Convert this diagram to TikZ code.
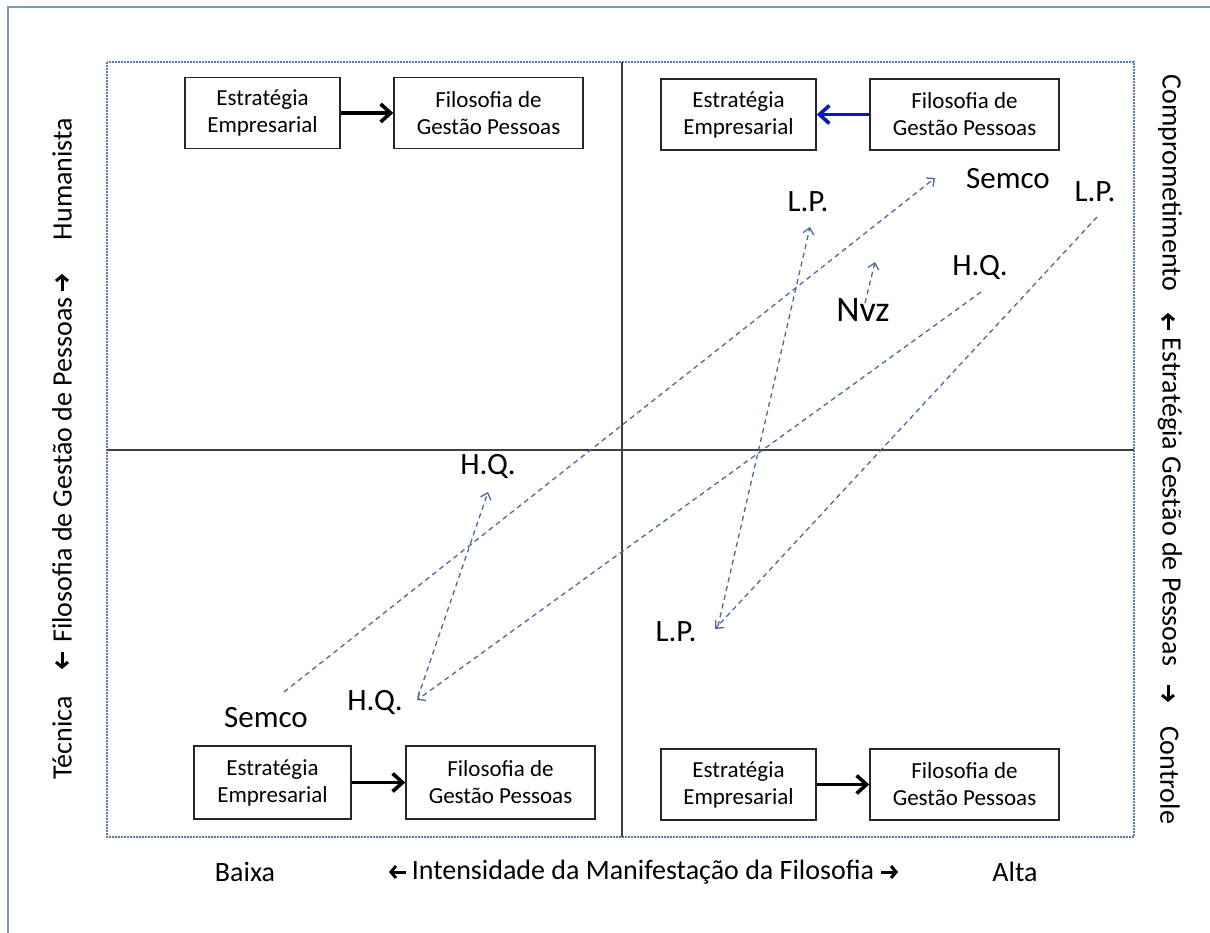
\documentclass[tikz,border=0pt]{standalone}
\usepackage{fontspec}
\setmainfont{Carlito}
\usetikzlibrary{arrows.meta}
\definecolor{frameblue}{HTML}{7F96BC}
\definecolor{dashblue}{HTML}{5B7AAE}
\definecolor{flowblue}{HTML}{4A6A9E}
\definecolor{strongblue}{HTML}{0A14C8}
\begin{document}
\begin{tikzpicture}[x=1pt,y=-1pt,
  stagebox/.style={draw=black!85, line width=1.4pt, minimum height=71pt, inner sep=0pt,
    align=center, font=\fontsize{23}{27}\selectfont},
  estbox/.style={stagebox, minimum width=155pt},
  filbox/.style={stagebox, minimum width=189pt},
  linkarrow/.style={line width=3.6pt, -{Straight Barb[length=10pt,width=18pt]}},
  flow/.style={draw=flowblue, line width=1.3pt, dash pattern=on 5pt off 4pt,
    -{Straight Barb[length=6pt,width=11pt]}},
  firm/.style={inner sep=0pt, font=\fontsize{31}{36}\selectfont},
  axislabel/.style={inner sep=0pt, font=\fontsize{28}{33}\selectfont},
  axisarrow/.style={line width=3pt, -{Straight Barb[length=5pt,width=12pt]}}
]
\useasboundingbox (0,0) rectangle (1210,933);

% page border (top and left edges)
\draw[frameblue, line width=1.5pt] (1210,7) -- (8,7) -- (8,933);

% dashed frame and quadrant axes
\draw[dashblue, line width=1.1pt, dash pattern=on 2pt off 1pt] (107,62) rectangle (1134,837);
\draw[black!75, line width=1.5pt] (622,62) -- (622,837);
\draw[black!75, line width=1.5pt] (107,450) -- (1134,450);

% quadrant boxes
\node[estbox] (e1) at (262.5,113) {Estratégia\\Empresarial};
\node[filbox] (f1) at (488.5,113) {Filosofia de\\Gestão Pessoas};
\node[estbox] (e2) at (738.5,114.5) {Estratégia\\Empresarial};
\node[filbox] (f2) at (964.5,114.5) {Filosofia de\\Gestão Pessoas};
\node[estbox, minimum width=157pt, minimum height=73pt] (e3) at (272.5,782.5) {Estratégia\\Empresarial};
\node[filbox, minimum height=73pt] (f3) at (500.5,782.5) {Filosofia de\\Gestão Pessoas};
\node[estbox] (e4) at (738.5,784.5) {Estratégia\\Empresarial};
\node[filbox] (f4) at (964.5,784.5) {Filosofia de\\Gestão Pessoas};

\draw[linkarrow, black] (e1) -- (f1);
\draw[linkarrow, strongblue] (f2) -- (e2);
\draw[linkarrow, black] (e3) -- (f3);
\draw[linkarrow, black] (e4) -- (f4);

% company labels
\node[firm] (sem1) at (266,718) {Semco};
\node[firm] (hq1) at (375,702) {H.Q.};
\node[firm] (hq2) at (488,466) {H.Q.};
\node[firm] (lp1) at (676,632) {L.P.};
\node[firm] (lp2) at (808,202) {L.P.};
\node[firm] (lp3) at (1095,192) {L.P.};
\node[firm] (sem2) at (1008,179) {Semco};
\node[firm] (hq3) at (980,267) {H.Q.};
\node[inner sep=0pt, font=\fontsize{36}{42}\selectfont] (nvz) at (863,310) {Nvz};

% movement endpoints
\coordinate (semA) at (284,692);
\coordinate (semB) at (935,178);
\coordinate (hqA) at (418,697);
\coordinate (hqB) at (488,492);
\coordinate (hqC) at (981,292);
\coordinate (hqD) at (417,700);
\coordinate (lpA) at (1097,217);
\coordinate (lpB) at (715,629);
\coordinate (lpC) at (718,626);
\coordinate (lpD) at (810,227);
\coordinate (nvA) at (865,303);
\coordinate (nvB) at (875,262);

\draw[flow] (semA) -- (semB);
\draw[flow] (hqA) -- (hqB);
\draw[flow] (hqC) -- (hqD);
\draw[flow] (lpA) -- (lpB);
\draw[flow] (lpC) -- (lpD);
\draw[flow] (nvA) -- (nvB);

% horizontal axis caption
\node[axislabel] (baixa) at (245,872) {Baixa};
\node[axislabel] (intens) at (643,872) {Intensidade da Manifestação da Filosofia};
\node[axislabel] (alta) at (1015,872) {Alta};
\coordinate (hlA) at (406,872); \coordinate (hlB) at (389,872);
\coordinate (hrA) at (881,872); \coordinate (hrB) at (898,872);
\draw[axisarrow] (hlA) -- (hlB);
\draw[axisarrow] (hrA) -- (hrB);

% left axis caption
\node[axislabel, rotate=90] (tec) at (62,738) {Técnica};
\node[axislabel, rotate=90] (filo) at (62,470) {Filosofia de Gestão de Pessoas};
\node[axislabel, rotate=90] (hum) at (62,179) {Humanista};
\coordinate (ldA) at (62,652); \coordinate (ldB) at (62,669);
\coordinate (luA) at (62,291); \coordinate (luB) at (62,274);
\draw[axisarrow] (ldA) -- (ldB);
\draw[axisarrow] (luA) -- (luB);

% right axis caption
\node[axislabel, rotate=-90] (comp) at (1170,183) {Comprometimento};
\node[axislabel, rotate=-90] (estr) at (1170,502) {Estratégia Gestão de Pessoas};
\node[axislabel, rotate=-90] (ctrl) at (1170,775) {Controle};
\coordinate (ruA) at (1168,330); \coordinate (ruB) at (1168,313);
\coordinate (rdA) at (1168,685); \coordinate (rdB) at (1168,702);
\draw[axisarrow] (ruA) -- (ruB);
\draw[axisarrow] (rdA) -- (rdB);
\end{tikzpicture}
\end{document}
